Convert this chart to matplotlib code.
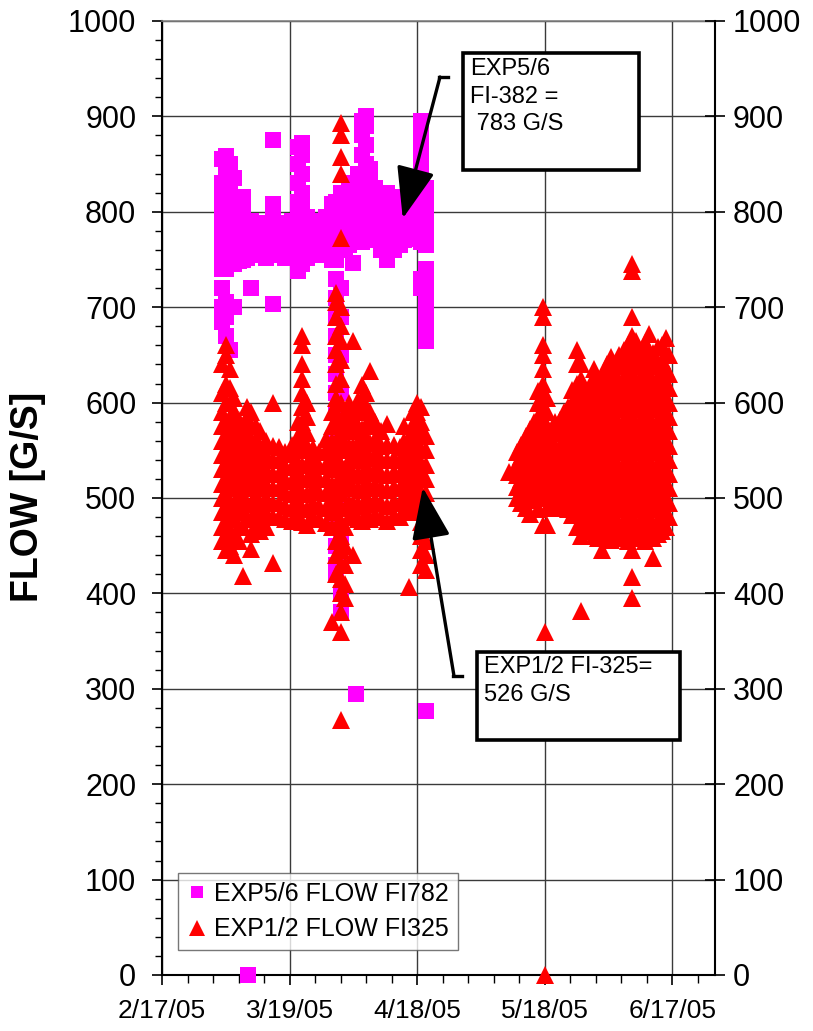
import matplotlib
matplotlib.use('Agg')
import matplotlib.pyplot as plt
import matplotlib.dates as mdates
from matplotlib.ticker import FixedLocator, MultipleLocator
from matplotlib.patches import Rectangle
from matplotlib.lines import Line2D
import datetime as dt

plt.rcParams['font.family'] = ['Liberation Sans', 'DejaVu Sans']

START = dt.datetime(2005, 2, 17)
END = dt.datetime(2005, 6, 27)

# ---- EXP5/6 FLOW FI782 (magenta squares): day offset from 2/17/05 -> readings ----
mag_days = [14.0, 15.0, 16.0, 17.0, 18.0, 19.0, 20.0, 20.2, 21.0, 22.0, 23.0, 24.5, 26.0,
            27.5, 29.0, 30.5, 32.0, 33.0, 34.0, 35.5, 37.0, 38.5, 40.0, 41.0, 42.0,
            43.0, 44.0, 45.0, 45.5, 46.0, 47.0, 48.0, 49.0, 50.0, 51.5, 53.0, 54.5,
            56.0, 57.0, 58.0, 59.0, 60.0, 61.0, 62.0]
mag_vals = [
    [684, 700, 720, 740, 755, 770, 785, 800, 815, 830, 855],
    [670, 690, 705, 740, 755, 770, 785, 800, 815, 830, 845, 858],
    [655, 700, 745, 760, 775, 790, 805, 820, 835, 850],
    [700, 745, 758, 772, 786, 800, 815, 835],
    [748, 760, 772, 784, 796, 810],
    [750, 762, 774, 786, 800, 815],
    [752, 764, 776, 788],
    [0],
    [720, 755, 767, 779, 790],
    [756, 768, 780],
    [755, 767, 779, 788],
    [752, 764, 776, 788],
    [703, 756, 768, 780, 795, 808, 875],
    [755, 767, 779, 788],
    [752, 764, 776, 788],
    [755, 767, 779, 790],
    [738, 752, 766, 780, 795, 810, 830, 850, 868],
    [745, 760, 775, 790, 805, 820, 840, 860, 872],
    [752, 766, 780, 795],
    [756, 768, 780],
    [755, 767, 779, 790],
    [758, 770, 782, 795],
    [750, 765, 780, 795, 808],
    [420, 430, 450, 470, 500, 530, 560, 590, 610, 630, 650, 670, 690, 710, 730, 750, 770, 790, 810],
    [380, 400, 430, 460, 500, 560, 610, 650, 690, 720, 760, 780, 800, 820],
    [760, 775, 790, 805, 820],
    [765, 780, 795, 810, 825],
    [746, 770, 785, 800, 815, 830],
    [295],
    [770, 785, 800, 815, 830, 840],
    [768, 782, 796, 810, 825, 840, 860, 880, 895],
    [770, 785, 800, 815, 830, 850, 870, 890, 900],
    [772, 786, 800, 815, 830, 845],
    [770, 785, 800, 815, 825],
    [760, 775, 790, 805, 815],
    [750, 765, 780, 795, 808, 820],
    [760, 775, 790, 805, 815],
    [765, 778, 790, 802],
    [770, 782, 795, 808],
    [772, 785, 798, 810],
    [775, 788, 800, 815],
    [775, 790, 805, 820],
    [720, 730, 768, 780, 795, 810, 825, 840, 855, 870, 885, 895],
    [277, 665, 680, 695, 710, 725, 740, 765, 780, 795, 810, 825],
]

# ---- EXP1/2 FLOW FI325 (red triangles): day offset from 2/17/05 -> readings ----
red_days = [14.0, 15.0, 16.0, 17.0, 18.0, 19.0, 20.0, 21.0, 22.0, 23.0, 24.5, 26.0,
            27.5, 29.0, 30.5, 32.0, 33.0, 34.0, 35.5, 37.0, 38.5, 40.0, 41.0, 42.0,
            43.0, 44.0, 45.0, 46.0, 47.0, 48.0, 49.0, 50.0, 51.5, 53.0, 54.5, 56.0,
            57.0, 58.0, 59.0, 60.0, 61.0, 62.0,
            81.5, 83.5, 84.5, 85.5, 86.5, 87.5, 88.5, 89.5, 90.0, 90.5, 91.5, 92.5,
            93.5, 94.5, 95.5, 96.5, 97.5, 98.5, 99.5, 100.5, 101.5, 102.5, 103.5,
            104.5, 105.5, 106.5, 107.5, 108.5, 109.5, 110.5, 111.5, 112.5, 113.5,
            114.5, 115.5, 116.5, 117.5, 118.5, 119.3]
red_vals = [
    [455, 470, 485, 500, 515, 530, 545, 560, 575, 590, 610, 640],
    [445, 460, 475, 490, 505, 520, 535, 550, 565, 580, 600, 620, 650, 660],
    [450, 465, 480, 495, 510, 525, 540, 555, 570, 585, 600, 615, 635],
    [440, 460, 478, 494, 510, 526, 542, 558, 575, 590, 605],
    [455, 470, 486, 502, 518, 534, 550, 566, 582],
    [418, 470, 485, 500, 515, 530, 545, 560, 575],
    [480, 495, 510, 525, 540, 555, 570, 585, 595],
    [447, 462, 478, 494, 510, 526, 542, 558, 575, 590],
    [470, 485, 500, 515, 530, 545, 560, 575],
    [465, 480, 495, 510, 525, 540, 555, 570],
    [470, 485, 500, 515, 530, 545, 560],
    [432, 480, 495, 510, 525, 540, 555, 600],
    [480, 495, 510, 525, 540, 553],
    [478, 492, 506, 520, 534, 548],
    [476, 490, 504, 518, 532, 546, 556],
    [480, 494, 508, 522, 536, 550, 565, 580],
    [475, 490, 505, 520, 535, 550, 565, 580, 595, 610, 625, 640, 660, 670],
    [472, 488, 504, 520, 536, 552, 568, 585, 600],
    [480, 495, 510, 525, 540, 552],
    [478, 492, 506, 520, 534, 548],
    [474, 490, 505, 520, 535, 550, 562],
    [370, 470, 485, 500, 515, 530, 545, 560, 575, 590],
    [420, 440, 455, 470, 485, 500, 515, 530, 545, 560, 575, 590, 605, 620, 640, 655, 670, 690, 705, 715],
    [267, 360, 380, 400, 415, 430, 445, 460, 475, 490, 505, 520, 535, 550, 565, 580, 600, 625, 645,
     665, 680, 700, 773, 840, 857, 880, 893],
    [395, 410, 430, 450, 470, 490, 510, 530, 550, 570, 590],
    [480, 495, 510, 525, 540, 555, 570, 585, 600],
    [440, 480, 495, 510, 525, 540, 555, 570, 585, 665],
    [478, 494, 510, 526, 542, 558, 575, 590, 603],
    [476, 492, 508, 524, 540, 556, 572, 590, 605, 618],
    [480, 496, 512, 528, 544, 560, 576, 592, 610],
    [478, 494, 510, 526, 542, 558, 575, 590, 633],
    [482, 498, 514, 530, 546, 562, 580],
    [480, 495, 510, 525, 540, 555, 570],
    [476, 492, 508, 524, 540, 556, 578],
    [482, 497, 512, 527, 542, 556],
    [480, 495, 510, 525, 540, 553],
    [485, 500, 515, 530, 545, 560, 575],
    [407, 488, 503, 518, 533, 548, 563],
    [488, 503, 518, 533, 548, 563, 578, 590],
    [485, 500, 515, 530, 545, 560, 575, 590, 600],
    [430, 445, 460, 475, 490, 505, 520, 535, 550, 565, 580, 595],
    [425, 440, 455, 490, 505, 520, 535, 550, 565],
    [527],
    [500, 512, 524, 536, 548],
    [495, 508, 520, 532, 544, 556],
    [490, 502, 515, 528, 540, 552, 565],
    [483, 500, 512, 524, 536, 548, 560, 572],
    [498, 510, 522, 534, 546, 558, 570, 580],
    [488, 500, 512, 524, 536, 548, 560, 572, 585, 600, 612],
    [472, 500, 512, 524, 536, 548, 560, 575, 590, 605, 620, 635, 650, 660, 690, 700],
    [360, 0],
    [472, 490, 502, 514, 526, 538, 550, 562, 575, 590, 605],
    [495, 508, 520, 532, 544, 556, 568],
    [492, 505, 518, 530, 542, 555, 568, 580],
    [490, 503, 516, 529, 542, 555, 568, 582],
    [490, 503, 516, 529, 542, 555, 568, 582, 590],
    [488, 501, 514, 527, 540, 553, 566, 580, 595],
    [482, 495, 508, 521, 534, 547, 560, 573, 586, 600, 613],
    [470, 484, 497, 510, 523, 536, 549, 562, 575, 590, 605, 620, 640, 655],
    [382, 460, 475, 490, 505, 520, 535, 550, 565, 580, 595, 610, 625, 640],
    [465, 480, 495, 510, 525, 540, 555, 570, 585, 600, 612],
    [470, 485, 500, 515, 530, 545, 560, 575, 590, 605, 618],
    [460, 475, 490, 505, 520, 535, 550, 565, 580, 595, 610, 625, 635],
    [458, 473, 488, 503, 518, 533, 548, 563, 578, 593, 608, 622],
    [445, 465, 480, 495, 510, 525, 540, 555, 570, 585, 600, 615, 628],
    [460, 475, 490, 505, 520, 535, 550, 565, 580, 595, 610, 625, 640],
    [456, 471, 486, 501, 516, 531, 546, 561, 576, 591, 606, 621, 636, 648],
    [462, 477, 492, 507, 522, 537, 552, 567, 582, 597, 612, 627, 640],
    [458, 473, 488, 503, 518, 533, 548, 563, 578, 593, 608, 623, 638, 650],
    [460, 475, 490, 505, 520, 535, 550, 565, 580, 595, 610, 625, 640, 655],
    [455, 470, 485, 500, 515, 530, 545, 560, 575, 590, 605, 620, 635, 650, 660],
    [395, 417, 445, 460, 475, 490, 505, 520, 535, 550, 565, 580, 595, 610, 625, 640, 655, 670,
     690, 738, 745],
    [458, 473, 488, 503, 518, 533, 548, 563, 578, 593, 608, 623, 638, 652, 665],
    [462, 477, 492, 507, 522, 537, 552, 567, 582, 597, 612, 627, 642, 655],
    [455, 470, 485, 500, 515, 530, 545, 560, 575, 590, 605, 620, 635, 650, 662],
    [460, 475, 490, 505, 520, 535, 550, 565, 580, 595, 610, 625, 640, 655, 672],
    [437, 458, 473, 488, 503, 518, 533, 548, 563, 578, 593, 608, 623, 638, 652],
    [462, 477, 492, 507, 522, 537, 552, 567, 582, 597, 612, 627, 642, 658],
    [465, 480, 495, 510, 525, 540, 555, 570, 585, 600, 615, 630, 645, 660],
    [470, 485, 500, 515, 530, 545, 560, 575, 590, 605, 620, 635, 650, 668],
    [480, 495, 510, 525, 540, 555, 570, 585, 600, 615, 630, 650],
]

series_labels = ['EXP5/6 FLOW FI782', 'EXP1/2 FLOW FI325']
xtick_dates = [dt.datetime(2005, 2, 17), dt.datetime(2005, 3, 19), dt.datetime(2005, 4, 18),
               dt.datetime(2005, 5, 18), dt.datetime(2005, 6, 17)]
xtick_labels = ['2/17/05', '3/19/05', '4/18/05', '5/18/05', '6/17/05']
yticks = [0, 100, 200, 300, 400, 500, 600, 700, 800, 900, 1000]

note1 = 'EXP5/6\nFI-382 =\n 783 G/S'
note2 = 'EXP1/2 FI-325=\n526 G/S'


def flatten(days, cols):
    base = mdates.date2num(START)
    xs, ys = [], []
    for d, col in zip(days, cols):
        for v in col:
            xs.append(base + d)
            ys.append(v)
    return xs, ys


W, H = 813, 1031
fig = plt.figure(figsize=(W / 100, H / 100), dpi=100)
ax = fig.add_axes([162 / W, 1 - 975 / H, (715 - 162) / W, (975 - 21) / H])

mx, my = flatten(mag_days, mag_vals)
rx, ry = flatten(red_days, red_vals)
ax.plot(mx, my, linestyle='none', marker='s', markersize=11, color='#FF00FF',
        markeredgewidth=0, label=series_labels[0], zorder=3, clip_on=False)
ax.plot(rx, ry, linestyle='none', marker='^', markersize=13, color='#FF0000',
        markeredgewidth=0, label=series_labels[1], zorder=4, clip_on=False)

ax.set_xlim(mdates.date2num(START), mdates.date2num(END))
ax.set_ylim(0, 1000)
ax.xaxis.set_major_locator(FixedLocator([mdates.date2num(d) for d in xtick_dates]))
ax.set_xticklabels(xtick_labels)
minor_x = [mdates.date2num(START) + 6 * k for k in range(0, 22)]
ax.xaxis.set_minor_locator(FixedLocator(minor_x))
ax.set_yticks(yticks)
ax.yaxis.set_minor_locator(MultipleLocator(20))

ax.grid(True, which='major', color='#3a3a3a', linewidth=1.0)
ax.set_axisbelow(True)

ax.tick_params(axis='y', which='major', direction='out', length=7.5, width=1.2,
               labelsize=22, pad=11)
ax.tick_params(axis='y', which='minor', direction='out', length=5, width=1.0)
ax.tick_params(axis='x', which='major', direction='out', length=7, width=1.2,
               labelsize=19, pad=10)
ax.tick_params(axis='x', which='minor', direction='out', length=6, width=1.0)
for s in ['left', 'bottom']:
    ax.spines[s].set_linewidth(1.5)
    ax.spines[s].set_color('black')
ax.spines['top'].set_color('#808080')
ax.spines['top'].set_linewidth(1.2)
ax.spines['right'].set_visible(False)

ax2 = ax.twinx()
ax2.set_ylim(0, 1000)
ax2.set_yticks(yticks)
ax2.tick_params(axis='y', direction='inout', length=14, width=1.2, labelsize=22, pad=6)
for s in ['left', 'top', 'bottom']:
    ax2.spines[s].set_visible(False)
ax2.spines['right'].set_linewidth(1.5)

fig.text(28 / W, 1 - 497 / H, 'FLOW [G/S]', rotation=90, ha='center', va='center',
         fontsize=27, fontweight='bold')

leg = ax.legend(loc='lower left', bbox_to_anchor=(0.029, 0.026), borderaxespad=0,
                fontsize=18, frameon=True, fancybox=False, handlelength=0.8,
                handletextpad=0.3, labelspacing=0.45, borderpad=0.35, markerscale=0.85)
leg.get_frame().set_edgecolor('#555555')
leg.get_frame().set_linewidth(1.0)
leg.set_zorder(10)

# annotation boxes
for (x0, y0, x1, y1) in [(463, 53, 639, 170), (477, 652, 680, 740)]:
    fig.add_artist(Rectangle((x0 / W, 1 - y1 / H), (x1 - x0) / W, (y1 - y0) / H,
                             transform=fig.transFigure, facecolor='white',
                             edgecolor='black', linewidth=2.6, zorder=5))
fig.text(470 / W, 1 - 58 / H, note1, ha='left', va='top', fontsize=17,
         linespacing=1.33, zorder=6)
fig.text(484 / W, 1 - 656 / H, note2, ha='left', va='top', fontsize=17,
         linespacing=1.33, zorder=6)

base = mdates.date2num(START)
arrow_kw = dict(arrowstyle='-|>,head_length=1.6,head_width=0.6', color='black',
                lw=2.4, shrinkA=0, shrinkB=0, mutation_scale=20)
ax.annotate('', xy=(base + 56.6, 793), xycoords='data',
            xytext=(440, H - 77), textcoords='figure pixels',
            arrowprops=arrow_kw, annotation_clip=False, zorder=7)
ax.annotate('', xy=(base + 61.3, 511), xycoords='data',
            xytext=(454, H - 676), textcoords='figure pixels',
            arrowprops=arrow_kw, annotation_clip=False, zorder=7)
fig.add_artist(Line2D([439 / W, 448 / W], [1 - 77 / H, 1 - 77 / H], color='black', lw=2.4))
fig.add_artist(Line2D([453 / W, 462 / W], [1 - 676 / H, 1 - 676 / H], color='black', lw=2.4))

fig.savefig('out.png', dpi=100)
